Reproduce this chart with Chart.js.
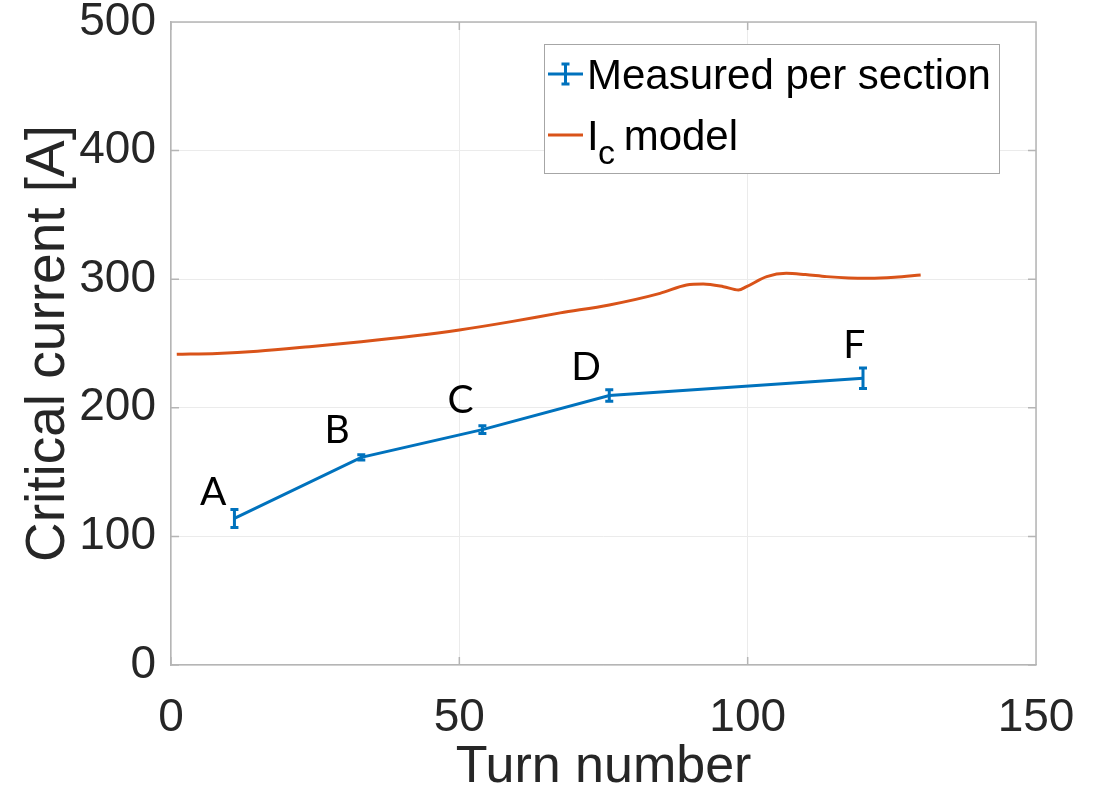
<!DOCTYPE html>
<html>
<head>
<meta charset="utf-8">
<script src="https://cdn.jsdelivr.net/npm/chart.js@4.4.1/dist/chart.umd.min.js"></script>
<style>
  html, body { margin: 0; padding: 0; background: #ffffff; }
  #wrap { width: 1101px; height: 794px; }
</style>
</head>
<body>
<div id="wrap"><canvas id="icChart" width="1101" height="794"></canvas></div>
<script>
// Measured critical current per section
const sectionLabels = ['A', 'B', 'C', 'D', 'F'];
const sectionTurns = [11, 33, 54, 76, 120];
const sectionIc = [114, 161.5, 183, 209.5, 223];
const sectionErr = [7, 2, 3, 4.5, 8];

// where the section letters sit (data coords, text baseline)
const letterTurns = [7.3, 28.8, 50.2, 72, 118.5];
const letterIc = [124.4, 172.6, 196, 221.6, 238.7];

// Ic model curve
const modelTurns = [1, 8, 15, 24, 33, 42, 50, 59, 67.5, 76, 84.8, 89.4, 92.3, 95.8, 98.4, 99.8, 103.3, 106.7, 110, 113.7, 117.5, 121.2, 125.5, 130];
const modelIc = [241.6, 242.3, 244, 247.5, 251.4, 255.8, 260.5, 267, 273.8, 280, 289, 295.5, 296.3, 294.2, 291.6, 294.2, 302, 304.6, 303.6, 302, 301, 300.8, 301.6, 303.3];

// Axis ticks
const xTicks = [0, 50, 100, 150];
const yTicks = [0, 100, 200, 300, 400, 500];

const colors = {
    blue: '#0072BD',
    orange: '#D95319',
    grid: '#ebebeb',
    axis: '#b5b5b5',
    text: '#262626'
};

const sans = '"Liberation Sans", Arial, sans-serif';
const tickFont = { family: sans, size: 46 };

// error bars, point labels, box, inner ticks and legend
const extrasPlugin = {
    id: 'extras',
    afterDatasetsDraw(chart) {
        const ctx = chart.ctx;
        const xs = chart.scales.x;
        const ys = chart.scales.y;
        ctx.save();
        ctx.strokeStyle = colors.blue;
        ctx.lineWidth = 3;
        sectionTurns.forEach((t, i) => {
            const px = xs.getPixelForValue(t);
            const top = ys.getPixelForValue(sectionIc[i] + sectionErr[i]);
            const bot = ys.getPixelForValue(sectionIc[i] - sectionErr[i]);
            ctx.beginPath();
            ctx.moveTo(px, top); ctx.lineTo(px, bot);
            ctx.moveTo(px - 4, top); ctx.lineTo(px + 4, top);
            ctx.moveTo(px - 4, bot); ctx.lineTo(px + 4, bot);
            ctx.stroke();
        });
        // section letters
        ctx.fillStyle = '#000000';
        ctx.font = '39px Lato, "Open Sans", sans-serif';
        ctx.textAlign = 'center';
        ctx.textBaseline = 'alphabetic';
        sectionLabels.forEach((s, i) => {
            ctx.fillText(s, xs.getPixelForValue(letterTurns[i]), ys.getPixelForValue(letterIc[i]));
        });
        ctx.restore();
    },
    afterDraw(chart) {
        const ctx = chart.ctx;
        const a = chart.chartArea;
        const xs = chart.scales.x;
        const ys = chart.scales.y;
        ctx.save();
        // box top and right
        ctx.strokeStyle = colors.axis;
        ctx.lineWidth = 1.5;
        ctx.beginPath();
        ctx.moveTo(a.left, a.top); ctx.lineTo(a.right, a.top); ctx.lineTo(a.right, a.bottom);
        // inward tick marks
        xTicks.forEach(v => {
            const px = xs.getPixelForValue(v);
            ctx.moveTo(px, a.bottom); ctx.lineTo(px, a.bottom - 8);
            ctx.moveTo(px, a.top); ctx.lineTo(px, a.top + 8);
        });
        yTicks.forEach(v => {
            const py = ys.getPixelForValue(v);
            ctx.moveTo(a.left, py); ctx.lineTo(a.left + 8, py);
            ctx.moveTo(a.right, py); ctx.lineTo(a.right - 8, py);
        });
        ctx.stroke();

        // legend
        const lx = 544, ly = 44, lw = 455, lh = 129;
        ctx.fillStyle = '#ffffff';
        ctx.fillRect(lx, ly, lw, lh);
        ctx.strokeStyle = '#a6a6a6';
        ctx.lineWidth = 1;
        ctx.strokeRect(lx + 0.5, ly + 0.5, lw, lh);

        ctx.lineWidth = 3;
        ctx.strokeStyle = colors.blue;
        ctx.beginPath();
        ctx.moveTo(548, 74); ctx.lineTo(583, 74);
        ctx.moveTo(565.5, 64); ctx.lineTo(565.5, 84);
        ctx.moveTo(561.5, 64); ctx.lineTo(569.5, 64);
        ctx.moveTo(561.5, 84); ctx.lineTo(569.5, 84);
        ctx.stroke();
        ctx.strokeStyle = colors.orange;
        ctx.beginPath();
        ctx.moveTo(548, 135); ctx.lineTo(583, 135);
        ctx.stroke();

        ctx.fillStyle = '#000000';
        ctx.textBaseline = 'alphabetic';
        ctx.textAlign = 'left';
        ctx.font = '42px ' + sans;
        ctx.fillText('Measured per section', 587, 89);
        ctx.fillText('I', 587, 150);
        ctx.font = '34px ' + sans;
        ctx.fillText('c', 598, 164);
        ctx.font = '42px ' + sans;
        ctx.fillText(' model', 612, 150);
        ctx.restore();
    }
};

const chart = new Chart(document.getElementById('icChart'), {
    type: 'scatter',
    data: {
        datasets: [
            {
                label: 'Measured per section',
                data: sectionTurns.map((t, i) => ({ x: t, y: sectionIc[i] })),
                showLine: true,
                borderColor: colors.blue,
                backgroundColor: colors.blue,
                borderWidth: 3,
                pointRadius: 0,
                tension: 0
            },
            {
                label: 'Ic model',
                data: modelTurns.map((t, i) => ({ x: t, y: modelIc[i] })),
                showLine: true,
                borderColor: colors.orange,
                backgroundColor: colors.orange,
                borderWidth: 3,
                pointRadius: 0,
                cubicInterpolationMode: 'monotone'
            }
        ]
    },
    options: {
        responsive: false,
        animation: false,
        devicePixelRatio: 1,
        layout: { padding: { left: 0, right: 65, top: 22, bottom: 0 } },
        plugins: {
            legend: { display: false },
            tooltip: { enabled: false }
        },
        scales: {
            x: {
                type: 'linear',
                min: 0,
                max: 150,
                afterBuildTicks: scale => { scale.ticks = xTicks.map(v => ({ value: v })); },
                afterFit: scale => {
                    scale.height = 129;
                    scale.paddingLeft = 0;
                    scale.paddingRight = 0;
                },
                ticks: { color: colors.text, font: tickFont, padding: 26, maxRotation: 0 },
                grid: { color: colors.grid, lineWidth: 1, drawTicks: false },
                border: { color: colors.axis, width: 1.5 },
                title: {
                    display: true, text: 'Turn number', color: colors.text,
                    font: { family: sans, size: 52, lineHeight: 1 }, padding: { top: 0, bottom: 0 }
                }
            },
            y: {
                type: 'linear',
                min: 0,
                max: 500,
                afterBuildTicks: scale => { scale.ticks = yTicks.map(v => ({ value: v })); },
                afterFit: scale => {
                    scale.width = 171;
                    scale.paddingTop = 0;
                    scale.paddingBottom = 0;
                },
                ticks: { color: colors.text, font: tickFont, padding: 15 },
                grid: { color: colors.grid, lineWidth: 1, drawTicks: false },
                border: { color: colors.axis, width: 1.5 },
                title: {
                    display: true, text: 'Critical current [A]', color: colors.text,
                    font: { family: sans, size: 55, lineHeight: 1 }, padding: { top: 21, bottom: 0 }
                }
            }
        }
    },
    plugins: [extrasPlugin]
});
</script>
</body>
</html>
